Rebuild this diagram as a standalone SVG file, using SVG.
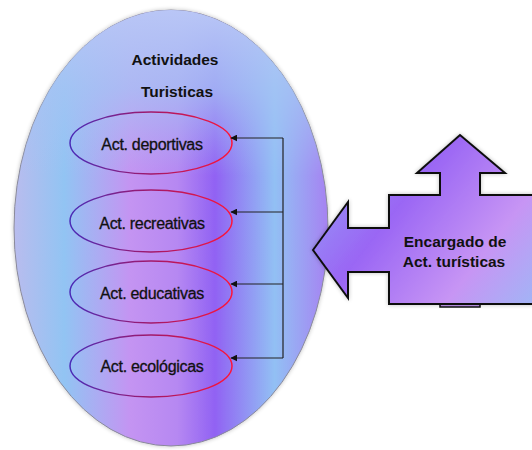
<svg xmlns="http://www.w3.org/2000/svg" width="532" height="450" viewBox="0 0 532 450">
<defs>
<linearGradient id="bigH" x1="14" y1="0" x2="328" y2="0" gradientUnits="userSpaceOnUse">
<stop offset="0" stop-color="#b9bcee"/>
<stop offset="0.16" stop-color="#92c4f3"/>
<stop offset="0.37" stop-color="#c494f2"/>
<stop offset="0.52" stop-color="#b688f2"/>
<stop offset="0.64" stop-color="#9162f3"/>
<stop offset="0.83" stop-color="#92c0f4"/>
<stop offset="1" stop-color="#a682f2"/>
</linearGradient>
<linearGradient id="bigV" x1="0" y1="10" x2="0" y2="446" gradientUnits="userSpaceOnUse">
<stop offset="0" stop-color="#b9c6f6" stop-opacity="1"/>
<stop offset="0.18" stop-color="#a6c4f4" stop-opacity="0.75"/>
<stop offset="0.38" stop-color="#a6c4f4" stop-opacity="0"/>
<stop offset="1" stop-color="#a6c4f4" stop-opacity="0"/>
</linearGradient>
<linearGradient id="ellStroke" x1="0" y1="0" x2="1" y2="0">
<stop offset="0" stop-color="#4a2cb8"/>
<stop offset="0.5" stop-color="#a0186a"/>
<stop offset="1" stop-color="#ff1438"/>
</linearGradient>
<linearGradient id="arrowFill" x1="313" y1="135" x2="532" y2="305" gradientUnits="userSpaceOnUse">
<stop offset="0" stop-color="#95a8f8"/>
<stop offset="0.4" stop-color="#9a66f4"/>
<stop offset="0.75" stop-color="#c795f4"/>
<stop offset="1" stop-color="#a2b4f6"/>
</linearGradient>
<filter id="soft" x="-10%" y="-10%" width="120%" height="120%">
<feGaussianBlur in="SourceAlpha" stdDeviation="2"/>
<feComponentTransfer><feFuncA type="linear" slope="0.25"/></feComponentTransfer>
<feMerge><feMergeNode/><feMergeNode in="SourceGraphic"/></feMerge>
</filter>
<marker id="ah" viewBox="0 0 10 10" refX="9" refY="5" markerWidth="7" markerHeight="7" orient="auto" markerUnits="userSpaceOnUse">
<path d="M0,0 L10,5 L0,10 z" fill="#111"/>
</marker>
<style>
.sub{fill:none;stroke:url(#ellStroke);stroke-width:1.5}
.lbl{font-family:"Liberation Sans",Arial,sans-serif;font-size:16px;fill:#111;stroke:#111;stroke-width:0.3;text-anchor:middle;letter-spacing:-0.3px}
.ttl{font-family:"Liberation Sans",Arial,sans-serif;font-size:15.5px;font-weight:bold;fill:#111;text-anchor:middle}
.conn{fill:none;stroke:#222;stroke-width:1.2}
</style>
</defs>

<g id="actividades-turisticas">
<ellipse cx="171" cy="228" rx="159" ry="220" fill="none" stroke="#ffffff" stroke-width="4" opacity="0.9"/>
<ellipse cx="171" cy="228" rx="157" ry="218" fill="url(#bigH)" stroke="#8a8a9a" stroke-width="1" filter="url(#soft)"/>
<ellipse cx="171" cy="228" rx="157" ry="218" fill="url(#bigV)"/>
<text class="ttl" x="175" y="65">Actividades</text>
<text class="ttl" x="177" y="97">Turisticas</text>
</g>

<g id="act-deportivas">
<ellipse class="sub" cx="151" cy="143" rx="81" ry="31"/>
<text class="lbl" x="152" y="150">Act. deportivas</text>
</g>
<g id="act-recreativas">
<ellipse class="sub" cx="151" cy="221" rx="81" ry="31"/>
<text class="lbl" x="152" y="229">Act. recreativas</text>
</g>
<g id="act-educativas">
<ellipse class="sub" cx="151" cy="292" rx="81" ry="31"/>
<text class="lbl" x="152" y="299">Act. educativas</text>
</g>
<g id="act-ecologicas">
<ellipse class="sub" cx="151" cy="366" rx="81" ry="31"/>
<text class="lbl" x="152" y="372">Act. ecológicas</text>
</g>

<g id="connectors">
<path class="conn" d="M283,138 L283,358"/>
<path class="conn" d="M283,138 L231,138" marker-end="url(#ah)"/>
<path class="conn" d="M283,212 L231,212" marker-end="url(#ah)"/>
<path class="conn" d="M283,284 L231,284" marker-end="url(#ah)"/>
<path class="conn" d="M283,358 L231,358" marker-end="url(#ah)"/>
</g>

<g id="encargado">
<path d="M440,304 L440,307 L480,307 L480,304" fill="#c59af4" stroke="#111" stroke-width="1.5"/>
<path d="M313,250 L348,202 L348,228 L389,228 L389,195 L440,195 L440,173 L417,173 L460,135 L505,173 L480,173 L480,195 L534,195 L534,304 L389,304 L389,272 L348,272 L348,298 Z" fill="url(#arrowFill)" stroke="#111" stroke-width="2" stroke-linejoin="miter" filter="url(#soft)"/>
<text class="ttl" x="455" y="247">Encargado de</text>
<text class="ttl" x="454" y="267">Act. turísticas</text>
</g>
</svg>
